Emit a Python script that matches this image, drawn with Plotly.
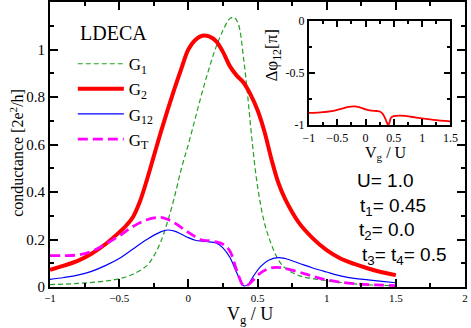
import plotly.graph_objects as go

# G1 (green dashed)
g1_x = [-1, -0.8, -0.6, -0.5, -0.4, -0.3, -0.25, -0.2, -0.15, -0.1, -0.05, 0, 0.05, 0.1, 0.15,
        0.2, 0.25, 0.3, 0.33, 0.36, 0.4, 0.43, 0.46, 0.5, 0.55, 0.6, 0.65, 0.7, 0.8, 0.9, 1.0,
        1.2, 1.5]
g1_y = [0.01, 0.015, 0.025, 0.035, 0.054, 0.09, 0.13, 0.19, 0.275, 0.38, 0.5, 0.6, 0.71, 0.82, 0.92,
        1.01, 1.08, 1.13, 1.135, 1.11, 0.96, 0.8, 0.62, 0.425, 0.27, 0.18, 0.115, 0.08, 0.048, 0.035, 0.027,
        0.013, 0.005]

# G2 (red thick)
g2_x = [-1, -0.9, -0.8, -0.7, -0.6, -0.5, -0.45, -0.4, -0.35, -0.3, -0.25, -0.2, -0.15, -0.1, -0.05, 0,
        0.05, 0.1, 0.15, 0.2, 0.25, 0.3, 0.35, 0.4, 0.45, 0.5, 0.55, 0.6, 0.65, 0.7, 0.8, 0.9, 1.0,
        1.1, 1.2, 1.3, 1.4, 1.5]
g2_y = [0.072, 0.09, 0.11, 0.14, 0.18, 0.23, 0.258, 0.295, 0.36, 0.45, 0.55, 0.65, 0.745, 0.835, 0.92, 1.0,
        1.04, 1.058, 1.055, 1.035, 0.99, 0.93, 0.89, 0.86, 0.81, 0.745, 0.655, 0.54, 0.44, 0.37, 0.27, 0.205, 0.155,
        0.12, 0.097, 0.078, 0.062, 0.05]

# G12 (blue thin)
g12_x = [-1, -0.9, -0.8, -0.7, -0.6, -0.5, -0.4, -0.3, -0.2, -0.15, -0.1, -0.05, 0, 0.05, 0.1, 0.15,
         0.2, 0.25, 0.3, 0.35, 0.4, 0.43, 0.47, 0.52, 0.58, 0.65, 0.7, 0.8, 0.9, 1.0, 1.1, 1.2, 1.3,
         1.4, 1.5]
g12_y = [0.032, 0.04, 0.05, 0.066, 0.09, 0.12, 0.16, 0.2, 0.232, 0.24, 0.235, 0.222, 0.208, 0.197, 0.193, 0.19,
         0.186, 0.165, 0.125, 0.06, 0.005, 0.01, 0.045, 0.085, 0.113, 0.124, 0.12, 0.1, 0.08, 0.063, 0.047, 0.036, 0.03,
         0.024, 0.018]

# GT (magenta dashed)
gt_x = [-1, -0.9, -0.8, -0.7, -0.6, -0.5, -0.4, -0.3, -0.2, -0.15, -0.1, -0.05, 0, 0.05, 0.1, 0.15,
        0.2, 0.25, 0.3, 0.35, 0.4, 0.43, 0.47, 0.52, 0.58, 0.63, 0.7, 0.8, 0.9, 1.0, 1.1, 1.2, 1.3,
        1.4, 1.5]
gt_y = [0.132, 0.132, 0.135, 0.15, 0.18, 0.215, 0.255, 0.283, 0.293, 0.285, 0.27, 0.25, 0.23, 0.212, 0.197, 0.195,
        0.19, 0.18, 0.152, 0.07, 0.005, 0.008, 0.03, 0.058, 0.077, 0.083, 0.078, 0.063, 0.045, 0.03, 0.02, 0.014, 0.01,
        0.008, 0.006]

# inset: phase difference
dphi_x = [-1, -0.8, -0.6, -0.4, -0.3, -0.2, -0.1, 0, 0.1, 0.2, 0.25, 0.3, 0.35, 0.38, 0.4, 0.42,
          0.45, 0.5, 0.6, 0.7, 0.8, 1.0, 1.2, 1.5]
dphi_y = [-0.883, -0.878, -0.866, -0.84, -0.825, -0.82, -0.83, -0.85, -0.862, -0.865, -0.87, -0.89, -0.94, -0.98,
          -1.0, -0.98, -0.93, -0.915, -0.91, -0.912, -0.92, -0.935, -0.95, -0.965]

serif = "Liberation Serif"
sans = "Liberation Sans"

fig = go.Figure()
fig.add_trace(go.Scatter(x=g1_x, y=g1_y, mode='lines', name='G<sub>1</sub>', line_shape='spline',
                         line=dict(color='#22a022', width=1.2, dash='5px,3px')))
fig.add_trace(go.Scatter(x=g2_x, y=g2_y, mode='lines', name='G<sub>2</sub>', line_shape='spline',
                         line=dict(color='#ff0000', width=4)))
fig.add_trace(go.Scatter(x=g12_x, y=g12_y, mode='lines', name='G<sub>12</sub>', line_shape='spline',
                         line=dict(color='#0000ff', width=1.2)))
fig.add_trace(go.Scatter(x=gt_x, y=gt_y, mode='lines', name='G<sub>T</sub>', line_shape='spline',
                         line=dict(color='#ff00ff', width=2.8, dash='10px,5px')))
fig.add_trace(go.Scatter(x=dphi_x, y=dphi_y, mode='lines', showlegend=False, line_shape='spline',
                         line=dict(color='#ff0000', width=1.8), xaxis='x2', yaxis='y2'))

axis_common = dict(showline=True, linewidth=2, linecolor='black', mirror='ticks', automargin=False,
                   ticks='inside', tickcolor='black', tickwidth=1.5, showgrid=False, zeroline=False)

fig.update_layout(
    width=471, height=328,
    margin=dict(l=50, r=6, t=2, b=41, autoexpand=False),
    plot_bgcolor='white', paper_bgcolor='white',
    font=dict(family=serif, color='black'),
    xaxis=dict(range=[-1, 2], tick0=-1, dtick=0.5, ticklen=8,
               tickfont=dict(size=11, family=serif),
               minor=dict(dtick=0.25, ticklen=4, ticks='inside', tickcolor='black'),
               **axis_common),
    yaxis=dict(range=[0, 1.2], tickvals=[0, 0.2, 0.4, 0.6, 0.8, 1.0],
               ticktext=['0', '0.2', '0.4', '0.6', '0.8', '1'], ticklen=8,
               tickfont=dict(size=15, family=serif),
               minor=dict(dtick=0.1, ticklen=4, ticks='inside', tickcolor='black'),
               **axis_common),
    xaxis2=dict(domain=[0.624, 0.965], anchor='y2', range=[-1, 1.5], tick0=-1, dtick=0.5, ticklen=6,
                tickfont=dict(size=12, family=serif),
                minor=dict(dtick=0.25, ticklen=3, ticks='inside', tickcolor='black'),
                **axis_common),
    yaxis2=dict(domain=[0.568, 0.935], anchor='x2', range=[-1, 0], tickvals=[-1, -0.5, 0],
                ticktext=['-1', '-0.5', '0'], ticklen=6,
                tickfont=dict(size=12, family=serif),
                minor=dict(dtick=0.25, ticklen=3, ticks='inside', tickcolor='black'),
                **axis_common),
    legend=dict(x=0.055, y=0.845, xanchor='left', yanchor='top', bgcolor='rgba(0,0,0,0)',
                font=dict(size=17, family=serif), tracegroupgap=0, itemwidth=46),
    showlegend=True,
)

annotations = [
    dict(text='conductance [2e<sup>2</sup>/h]', x=-0.08, y=0.47, textangle=-90, font=dict(size=16)),
    dict(text='V<sub>g</sub> / U', x=0.482, y=-0.1, font=dict(size=18)),
    dict(text='LDECA', x=0.0675, y=0.891, xanchor='left', font=dict(size=20)),
    dict(text='Δφ<sub>12</sub>[π]', x=0.537, y=0.815, textangle=-90, font=dict(size=17)),
    dict(text='V<sub>g</sub> / U', x=0.81, y=0.47, font=dict(size=16)),
    dict(text='U= 1.0', x=0.735, y=0.375, xanchor='left', font=dict(size=19, family=sans)),
    dict(text='t<sub>1</sub>= 0.45', x=0.742, y=0.281, xanchor='left', font=dict(size=19, family=sans)),
    dict(text='t<sub>2</sub>= 0.0', x=0.74, y=0.196, xanchor='left', font=dict(size=19, family=sans)),
    dict(text='t<sub>3</sub>= t<sub>4</sub>= 0.5', x=0.747, y=0.109, xanchor='left',
         font=dict(size=19, family=sans)),
]
for a in annotations:
    a.setdefault('xanchor', 'center')
    a.update(xref='paper', yref='paper', showarrow=False, yanchor='middle')
    fig.add_annotation(**a)

# the page body has a default 8px margin; remove it so the figure sits at the window corner
fig.write_html("out.html", config={'displayModeBar': False},
               post_script="document.body.style.margin='0';")
